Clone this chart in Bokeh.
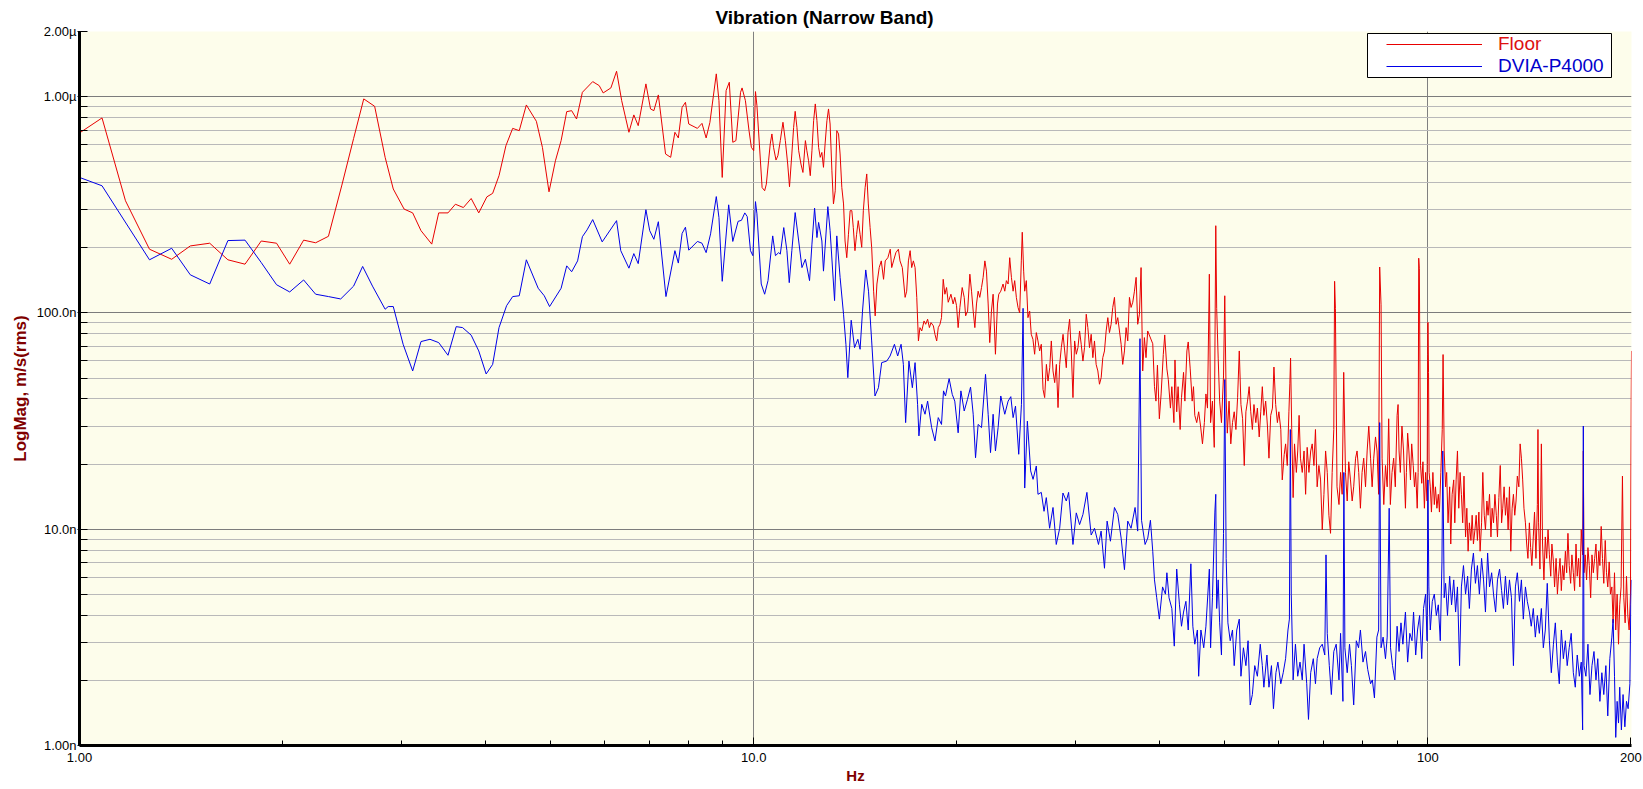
from bokeh.plotting import figure
from bokeh.models import Range1d, FixedTicker, Legend, LegendItem, BoxAnnotation
from bokeh.embed import file_html
from bokeh.resources import INLINE

FONT = "Liberation Sans"

# ---------------- Floor (red) : frequency in Hz, magnitude in nm/s rms ----------------
F1_HZ = [1.00, 1.08, 1.17, 1.27, 1.37, 1.46, 1.56, 1.66, 1.76, 1.86,
         1.96, 2.05, 2.15, 2.24, 2.34, 2.45, 2.55, 2.64, 2.74, 2.84,
         2.92, 3.03, 3.12, 3.21, 3.33, 3.41, 3.52, 3.61, 3.71, 3.81,
         3.91, 4.02, 4.10, 4.19, 4.29, 4.39, 4.49, 4.60, 4.76, 4.86,
         4.97, 5.08, 5.18, 5.28, 5.37, 5.46, 5.57, 5.77, 5.90, 5.98,
         6.14, 6.26, 6.37, 6.53, 6.64, 6.74, 6.92, 7.03, 7.11, 7.22,
         7.40, 7.53, 7.64, 7.73, 7.83, 7.92, 8.01, 8.25, 8.38, 8.50,
         8.61, 8.80, 8.88, 8.98, 9.10, 9.20, 9.31, 9.41, 9.56, 9.61,
         9.72, 9.84, 9.92, 10.00]
F1_NM = [679, 797, 330, 197, 177, 204, 210, 176, 168, 215,
         210, 168, 217, 211, 226, 390, 640, 976, 902, 524,
         374, 302, 290, 240, 208, 290, 290, 318, 307, 338,
         290, 344, 357, 431, 593, 713, 696, 915, 769, 582,
         363, 505, 626, 852, 861, 788, 1047, 1173, 1124, 1040,
         1097, 1310, 958, 684, 823, 734, 1145, 877, 861, 1018,
         543, 524, 684, 644, 892, 941, 747, 713, 752, 644,
         760, 1274, 958, 423, 1066, 1165, 615, 626, 1047, 1097,
         958, 697, 583, 562]

F2_HZ = [10.06, 10.11, 10.29, 10.38, 10.44, 10.52, 10.58, 10.64, 10.70, 10.79,
         10.86, 10.95, 11.05, 11.14, 11.23, 11.30, 11.39, 11.46, 11.52, 11.59,
         11.66, 11.75, 11.83, 11.93, 11.99, 12.06, 12.13, 12.20, 12.27, 12.34,
         12.41, 12.48, 12.55, 12.62, 12.69, 12.76, 12.84, 12.91, 12.98, 13.06,
         13.13, 13.21, 13.28, 13.36, 13.43, 13.51, 13.59, 13.66, 13.74, 13.82,
         13.90, 13.98, 14.05, 14.13, 14.21, 14.29, 14.38, 14.46, 14.54, 14.63,
         14.71, 14.79, 14.88, 14.96]
F2_NM = [1055, 908, 380, 367, 394, 505, 604, 672, 583, 509,
         533, 626, 761, 626, 488, 383, 543, 721, 855, 721,
         562, 488, 446, 626, 562, 505, 431, 562, 774, 925,
         774, 583, 524, 552, 471, 604, 774, 877, 747, 454,
         319, 367, 696, 672, 543, 380, 319, 215, 180, 231,
         297, 297, 248, 194, 231, 267, 231, 201, 297, 380,
         439, 319, 248, 201]

F3_HZ = [15.06, 15.14, 15.23, 15.35, 15.46, 15.58, 15.67, 15.81, 15.94, 16.02,
         16.12, 16.25, 16.39, 16.48, 16.61, 16.77, 16.86, 16.96, 17.06, 17.15,
         17.25, 17.35, 17.45, 17.55, 17.64, 17.75, 17.89, 17.99, 18.11, 18.22,
         18.32, 18.47, 18.57, 18.68, 18.78, 18.89, 18.99, 19.10, 19.21, 19.32,
         19.43, 19.61, 19.76, 19.87, 19.99, 20.10, 20.22, 20.38, 20.52, 20.62,
         20.76, 20.92, 21.04, 21.16, 21.28, 21.40, 21.52, 21.64, 21.77, 21.89,
         22.02, 22.14, 22.27, 22.39, 22.52, 22.65, 22.83, 22.99, 23.09, 23.25,
         23.43, 23.57, 23.70, 23.84, 23.97, 24.11, 24.25, 24.38, 24.52, 24.66,
         24.80, 24.94, 25.02, 25.14, 25.23, 25.37, 25.51, 25.66, 25.80, 25.95,
         26.10, 26.25, 26.40, 26.55, 26.70, 26.86, 27.01, 27.17, 27.32, 27.48,
         27.63, 27.79, 27.95, 28.11, 28.27, 28.43, 28.59, 28.76, 28.92, 29.08,
         29.25, 29.41, 29.58, 29.75, 29.92, 30.09, 30.26, 30.43, 30.60, 30.78,
         30.95, 31.13, 31.30, 31.48, 31.66, 31.84, 32.02, 32.20, 32.39, 32.57,
         32.76, 32.94, 33.13, 33.32, 33.51, 33.70, 33.89, 34.08, 34.28, 34.47,
         34.67, 34.87, 35.07, 35.26, 35.47, 35.67, 35.87, 36.08, 36.28, 36.49,
         36.70, 36.91, 37.11, 37.33, 37.54, 37.75, 37.97, 38.18, 38.40, 39.07]
F3_NM = [126, 96.9, 136, 162, 174, 143, 174, 180, 197, 162,
         174, 190, 197, 174, 162, 118, 126, 174, 194, 162,
         174, 162, 118, 74.2, 85.5, 82.5, 91.8, 88.6, 93.5, 85.5,
         90.2, 87.1, 79.6, 74.2, 85.5, 88.6, 95.1, 143, 122, 131,
         112, 122, 110, 118, 108, 85.5, 106, 131, 118, 96.9,
         102, 151, 126, 102, 85.5, 110, 126, 118, 131, 146,
         174, 156, 110, 72.9, 102, 122, 64.4, 110, 122, 126,
         136, 126, 141, 136, 180, 146, 126, 141, 118, 106,
         100, 174, 236, 156, 126, 141, 95.1, 102, 79.6, 75.5,
         64.4, 81.1, 74.2, 66.7, 71.6, 44.3, 40.6, 57.8, 48.4, 55.8,
         74.2, 53.9, 47.6, 57.8, 36.5, 57.8, 69.1, 79.6, 66.7, 55.8,
         81.1, 93.5, 66.7, 40.6, 74.2, 64.4, 69.1, 82.5, 71.6, 59.9,
         69.1, 98.6, 85.5, 69.1, 79.6, 62.1, 74.2, 57.8, 53.9, 46.8,
         50.2, 62.1, 66.7, 82.5, 95.1, 81.1, 88.6, 106, 118, 88.6,
         95.1, 82.5, 71.6, 57.8, 66.7, 85.5, 74.2, 118, 106, 112,
         126, 146, 88.6, 98.6, 162, 53.9, 76.9, 62.1, 82.5, 72.0]

F4_HZ = [39.3, 39.5, 39.7, 39.96, 40.2, 40.5, 40.7, 41.0, 41.2, 41.5,
         41.7, 42.0, 42.15, 42.4, 42.6, 42.9, 43.1, 43.4, 43.6, 43.9,
         44.1, 44.4, 44.7, 44.9, 45.1, 45.4, 45.7, 46.0, 46.3, 46.6,
         46.85, 47.1, 47.4, 47.6, 47.9, 48.2, 48.45, 48.6, 48.85, 49.1,
         49.4, 49.75, 49.96, 50.2, 50.4, 50.7, 51.0, 51.3, 51.6, 51.9,
         52.2, 52.5, 52.8, 53.1, 53.4, 53.7, 54.0, 54.3, 54.6, 54.9,
         55.2, 55.55, 55.85, 56.2, 56.5, 56.8, 57.1, 57.45, 57.8, 58.1,
         58.45, 58.8, 59.1, 59.45, 59.8, 60.1, 60.5, 60.8, 61.2, 61.5,
         61.85, 62.2, 62.4, 62.55, 62.8, 63.1, 63.4, 63.8, 64.1, 64.4,
         64.7, 65.1, 65.5, 65.85, 66.2, 66.6, 67.0, 67.35, 67.75, 68.1,
         68.5, 68.9, 69.3, 69.7, 70.1, 70.5, 70.9, 71.3, 71.7, 72.1,
         72.5, 72.7, 72.9, 73.3, 73.8, 74.2, 74.6, 75.0, 75.45, 75.9,
         76.3, 76.75, 77.2, 77.6, 78.1, 78.5, 78.95, 79.4, 79.85, 80.3,
         80.8, 81.25, 81.7, 82.2, 82.65, 83.1, 83.6, 84.05, 84.5, 84.8,
         85.2, 85.5, 86.0, 86.5, 87.0, 87.45, 87.95, 88.45, 88.95, 89.45]
F4_NM = [45.6, 39.1, 57.3, 32.4, 42.2, 64.2, 79.1, 55.1, 49.2, 36.3,
         45.6, 31.1, 60.6, 34.9, 45.6, 28.9, 40.6, 53.1, 39.1, 66.7,
         73.4, 55.1, 39.1, 45.6, 33.6, 31.1, 34.9, 30.0, 24.8, 31.1,
         42.2, 36.3, 151, 31.1, 39.1, 23.9, 253, 105, 61.8, 39.1,
         31.1, 51.1, 120, 40.6, 27.8, 39.1, 24.8, 31.1, 34.9, 28.9,
         40.6, 66.7, 37.7, 32.4, 19.7, 34.9, 39.1, 45.6, 34.9, 28.9,
         37.7, 31.1, 36.3, 26.7, 34.9, 45.6, 33.6, 39.1, 30.0, 21.3,
         33.6, 36.3, 56.2, 37.7, 31.1, 34.9, 28.9, 16.9, 22.1, 24.8,
         19.7, 34.9, 47.3, 61.8, 28.9, 14.0, 24.8, 18.3, 23.0, 33.6,
         21.3, 18.3, 23.0, 14.5, 23.9, 18.3, 23.0, 24.8, 19.7, 28.9,
         15.7, 19.7, 16.9, 9.94, 14.5, 23.0, 18.3, 11.6, 9.57, 18.3,
         28.9, 140, 105, 15.7, 13.0, 18.3, 14.5, 53.1, 18.3, 13.5,
         20.5, 16.9, 13.5, 15.7, 21.3, 23.0, 18.3, 12.5, 18.3, 21.3,
         15.7, 23.0, 30.0, 21.3, 15.7, 21.3, 26.7, 23.0, 14.5, 163,
         109, 21.3, 13.0, 19.7, 15.7, 32.4, 13.0, 18.3, 21.3, 15.7]

F5_HZ = [90.0, 90.3, 90.6, 91.0, 91.5, 92.0, 92.6, 92.9, 93.3, 93.7,
         94.2, 94.6, 95.1, 95.5, 95.9, 96.4, 96.7, 96.9, 97.1, 97.5,
         97.9, 98.3, 98.8, 99.2, 99.7, 99.9, 100.0, 100.2, 100.4, 100.8,
         101.2, 101.7, 102.2, 102.6, 103.1, 103.6, 104.0, 104.5, 105.0, 105.3,
         105.7, 106.2, 106.6, 107.1, 107.7, 108.1, 108.6, 109.2, 109.6, 110.1,
         110.6, 111.1, 111.6, 112.1, 112.6, 113.1, 113.7, 114.2, 114.7, 115.2,
         115.8, 116.3, 116.8, 117.4, 117.9, 118.4, 119.0, 119.5, 120.1, 120.6,
         121.2, 121.7, 122.3, 122.8, 123.4, 124.0, 124.5, 125.1, 125.7, 126.3,
         126.8, 127.4, 128.0, 128.6, 129.1, 129.7, 130.3, 130.9, 131.5, 132.1,
         132.7, 133.3, 133.9, 134.5, 135.1, 135.7, 136.4, 137.0, 137.6, 138.2,
         138.8, 139.5, 140.1, 140.7, 141.4, 142.0, 142.6, 143.3, 143.9, 144.6,
         145.3, 145.6, 145.9, 146.6, 147.3, 147.9, 148.6, 149.3, 150.0, 150.7,
         151.4, 152.1, 152.7, 153.5, 154.1, 154.9, 155.6, 156.2, 157.0, 157.7,
         158.4, 159.1, 159.9, 160.6, 161.3, 162.0, 162.8, 163.5, 164.3, 165.0,
         165.8, 166.5, 167.3, 168.0, 168.8, 169.6, 170.0, 170.4, 171.1, 171.9,
         172.7, 173.5, 174.3, 175.1, 175.9, 176.7, 177.5, 178.4, 179.2, 179.9,
         180.7, 181.5, 182.3, 183.2, 184.0, 184.8, 185.7, 186.5, 187.4, 188.2,
         189.1, 189.9, 190.8, 191.7, 192.5, 193.4, 194.3, 195.2, 196.1, 197.0,
         197.9, 198.8, 199.7, 200.2, 200.4]
F5_NM = [33.6, 37.7, 23.0, 18.3, 30.0, 23.0, 12.5, 18.3, 27.8, 23.0,
         16.9, 24.8, 19.7, 15.7, 18.3, 12.5, 18.3, 179, 160, 19.7,
         16.3, 20.5, 12.5, 18.3, 13.5, 64.2, 90.4, 53.1, 18.3, 15.7,
         12.0, 18.3, 13.0, 15.7, 12.5, 14.5, 12.0, 18.3, 28.9, 64.2,
         23.0, 15.7, 18.3, 10.7, 15.7, 8.54, 14.5, 16.9, 10.7, 16.9,
         23.0, 12.5, 18.3, 14.5, 10.7, 17.6, 9.21, 12.5, 7.91, 10.7,
         8.87, 11.6, 8.54, 9.94, 11.6, 8.87, 12.0, 7.91, 10.7, 18.3,
         11.6, 9.94, 13.5, 11.6, 14.5, 9.21, 12.5, 10.7, 14.5, 11.6,
         9.21, 14.0, 19.7, 10.7, 12.5, 15.7, 11.6, 14.0, 9.94, 15.7,
         7.91, 12.5, 14.5, 11.6, 13.5, 17.6, 15.7, 24.8, 21.3, 16.9,
         12.5, 10.7, 8.54, 7.33, 10.7, 8.22, 6.79, 9.21, 12.0, 7.33,
         13.0, 28.9, 10.7, 6.54, 24.8, 8.54, 5.83, 9.21, 7.33, 9.94,
         7.61, 6.06, 8.54, 7.06, 5.41, 7.33, 5.01, 6.06, 7.33, 5.20,
         6.79, 5.83, 7.91, 6.29, 9.57, 6.79, 5.62, 7.61, 6.29, 5.20,
         8.54, 6.06, 7.33, 5.41, 9.94, 7.61, 23.0, 6.29, 7.61, 5.83,
         8.22, 6.79, 4.82, 7.61, 6.29, 7.33, 8.54, 5.83, 7.91, 6.79,
         10.3, 7.33, 5.62, 8.87, 6.29, 5.41, 7.06, 5.01, 5.41, 3.69,
         6.29, 3.42, 5.01, 2.94, 4.47, 5.41, 17.6, 4.82, 3.69, 6.06,
         3.99, 3.42, 5.01, 39.1, 66.7]

# ---------------- DVIA-P4000 (blue) ----------------
D1_HZ = [1.00, 1.08, 1.27, 1.37, 1.46, 1.56, 1.66, 1.76, 1.86, 1.96,
         2.05, 2.15, 2.24, 2.34, 2.44, 2.55, 2.63, 2.72, 2.84, 2.87,
         2.92, 3.02, 3.12, 3.21, 3.31, 3.41, 3.52, 3.62, 3.70, 3.81,
         3.91, 4.01, 4.10, 4.19, 4.30, 4.39, 4.49, 4.60, 4.79, 4.89,
         4.98, 5.18, 5.28, 5.37, 5.48, 5.57, 5.66, 5.77, 5.96, 6.26,
         6.35, 6.53, 6.64, 6.74, 6.92, 7.01, 7.11, 7.22, 7.41, 7.64,
         7.73, 7.83, 7.92, 8.01, 8.25, 8.38, 8.50, 8.63, 8.80, 8.88,
         8.98, 9.18, 9.31, 9.48, 9.59, 9.70, 9.78, 9.89, 9.97]
D1_NM = [423, 387, 176, 199, 150, 136, 216, 217, 171, 135,
         125, 142, 122, 119, 116, 133, 164, 133, 104, 107,
         107, 71.6, 53.9, 73.7, 75.5, 72.9, 63.7, 86.4, 85.5, 78.9,
         66.7, 52.2, 57.8, 85.5, 108, 119, 120, 176, 130, 120,
         107, 130, 165, 155, 174, 225, 242, 270, 213, 267,
         194, 161, 188, 169, 300, 240, 219, 264, 119, 194,
         170, 233, 249, 195, 214, 210, 190, 232, 345, 276,
         140, 316, 214, 265, 268, 290, 279, 194, 184]

D2_HZ = [10.06, 10.11, 10.26, 10.38, 10.50, 10.67, 10.77, 10.89, 10.95, 11.08,
         11.20, 11.29, 11.39, 11.52, 11.66, 11.79, 11.93, 12.10, 12.20, 12.31,
         12.41, 12.48, 12.62, 12.69, 12.88, 12.98, 13.18, 13.28, 13.43, 13.59,
         13.70, 13.79, 13.95, 14.11, 14.27, 14.38, 14.50, 14.66, 14.80, 14.96,
         15.13, 15.31, 15.48, 15.75, 15.93, 16.17, 16.35, 16.54, 16.67, 16.80,
         16.99, 17.19, 17.35, 17.50, 17.58, 17.75, 17.95, 18.11, 18.36, 18.57,
         18.78, 18.99, 19.12, 19.25, 19.49, 19.70, 19.87, 20.10, 20.29, 20.52,
         20.75, 20.97, 21.16, 21.33, 21.52, 21.77, 22.07, 22.27, 22.45, 22.65,
         22.83, 23.04, 23.25, 23.57, 23.84, 24.06, 24.25, 24.45, 24.72, 24.95]
D2_NM = [327, 287, 136, 122, 141, 227, 184, 190, 187, 248,
         194, 138, 194, 291, 215, 162, 177, 141, 208, 305,
         223, 262, 215, 156, 310, 240, 114, 227, 146, 98.6,
         71.6, 50.2, 92.5, 69.1, 75.5, 67.9, 102, 158, 126, 74.2,
         41.3, 45.1, 58.9, 59.9, 63.2, 71.6, 63.2, 71.6, 57.8, 31.1,
         59.9, 45.1, 58.9, 37.8, 27.0, 37.8, 34.0, 39.1, 29.5, 25.6,
         32.8, 30.5, 43.6, 41.3, 49.7, 42.0, 39.1, 27.9, 43.6, 35.2,
         39.8, 45.4, 34.0, 21.4, 30.5, 29.5, 52.0, 34.0, 22.6, 34.0,
         23.0, 29.5, 41.3, 34.0, 39.1, 41.0, 32.8, 37.1, 22.2, 37.8]

D3_HZ = [25.09, 25.23, 25.46, 25.75, 25.96, 26.25, 26.40, 26.70, 26.95, 27.16,
         27.47, 27.79, 28.10, 28.43, 28.75, 29.08, 29.31, 29.75, 30.09, 30.43,
         30.78, 31.20, 31.66, 32.02, 32.46, 32.75, 33.13, 33.43, 33.81, 34.28,
         34.67, 35.07, 35.47, 35.87, 36.28, 36.78, 37.11, 37.40, 37.60, 38.06,
         38.41, 38.76, 39.07]
D3_NM = [105, 15.5, 31.6, 18.6, 17.0, 19.6, 14.5, 14.8, 12.1, 14.0,
         10.1, 12.6, 8.5, 10.1, 14.7, 13.5, 14.8, 8.5, 11.9, 10.5,
         11.7, 14.8, 9.4, 10.1, 8.5, 9.8, 6.6, 10.9, 8.8, 12.6,
         11.7, 9.1, 6.5, 10.9, 10.1, 12.6, 9.8, 76.0, 11.0, 8.5,
         9.1, 11.0, 7.9]

D4_HZ = [39.3, 39.6, 39.96, 40.4, 40.8, 41.0, 41.3, 41.7, 42.05, 42.4,
         42.8, 43.1, 43.4, 43.75, 44.1, 44.5, 44.8, 45.1, 45.5, 45.7,
         46.05, 46.5, 46.85, 47.4, 47.6, 47.9, 48.3, 48.45, 48.6, 48.85,
         49.1, 49.4, 49.75, 49.96, 50.2, 50.5, 50.9, 51.3, 51.6, 52.05,
         52.5, 52.8, 53.25, 53.7, 54.1, 54.5, 54.9, 55.35, 55.85, 56.4,
         56.8, 57.1, 57.7, 58.1, 58.6, 59.0, 59.5, 59.9, 60.5, 61.0,
         61.5, 62.0, 62.3, 62.5, 62.7, 63.1, 63.6, 64.1, 64.6, 65.1,
         65.5, 66.1, 66.5, 67.0, 67.6, 68.1, 68.5, 69.1, 69.7, 70.3,
         70.6, 70.9, 71.4, 71.9, 72.5, 73.1, 73.8, 74.2, 74.8, 75.04,
         75.3, 75.9, 76.5, 77.0, 77.6, 78.3, 78.9, 79.4, 80.1, 80.8,
         81.4, 82.2, 82.7, 83.3, 84.0, 84.5, 84.8, 85.2, 85.8, 86.5,
         87.0, 87.6, 88.0, 88.6, 89.3]
D4_NM = [5.83, 4.82, 3.84, 5.41, 5.01, 6.29, 4.82, 4.30, 2.88, 6.54,
         4.47, 3.56, 4.14, 4.64, 3.42, 6.92, 3.56, 2.94, 3.42, 2.09,
         3.42, 2.83, 3.56, 6.54, 2.83, 4.82, 12.0, 14.5, 4.30, 5.83,
         3.69, 2.62, 9.57, 49.2, 7.33, 3.69, 3.05, 3.42, 2.34, 3.42,
         3.84, 2.09, 2.83, 2.34, 3.05, 1.54, 1.72, 2.34, 2.09, 2.94,
         2.34, 1.86, 2.62, 1.86, 2.34, 1.48, 2.17, 2.43, 1.93, 2.17,
         2.52, 3.42, 3.84, 28.9, 5.01, 2.01, 2.94, 2.09, 2.43, 2.01,
         2.94, 1.93, 1.32, 2.17, 2.52, 1.93, 2.52, 2.83, 2.94, 2.62,
         7.61, 3.30, 2.34, 1.72, 2.72, 2.94, 2.01, 3.30, 1.60, 18.3,
         2.83, 2.17, 2.94, 2.34, 1.54, 3.05, 2.83, 3.42, 2.43, 2.72,
         2.25, 1.93, 2.01, 1.66, 3.17, 3.42, 31.1, 2.83, 3.17, 2.52,
         3.17, 12.5, 2.83, 2.34, 2.01]

D5_HZ = [90.0, 90.6, 91.2, 91.8, 92.6, 93.3, 94.0, 94.7, 95.2, 95.9,
         96.5, 97.2, 97.9, 98.5, 99.2, 99.7, 100.0, 100.3, 100.8, 101.5,
         102.2, 102.9, 103.6, 104.3, 104.9, 105.2, 105.7, 106.2, 106.9, 107.7,
         108.4, 109.2, 109.9, 110.6, 111.4, 112.1, 112.9, 113.7, 114.5, 115.2,
         116.0, 116.8, 117.6, 118.4, 119.2, 120.1, 120.9, 121.7, 122.6, 123.4,
         124.3, 125.1, 126.0, 126.8, 127.7, 128.6, 129.4, 130.3, 131.2, 132.1,
         133.0, 133.9, 134.8, 135.7, 136.7, 137.6, 138.5, 139.5, 140.4, 141.4,
         142.3, 143.3, 144.3, 145.3, 146.3, 147.3, 148.3, 149.3, 150.3, 151.4,
         152.4, 153.5, 154.5, 155.6, 156.6, 157.7, 158.8, 159.9, 160.9, 162.0,
         163.1, 164.3, 165.4, 166.5, 167.7, 168.8, 169.6, 170.0, 170.4, 171.5,
         172.7, 173.9, 175.1, 176.3, 177.5, 178.6, 179.9, 181.1, 182.3, 183.6,
         184.8, 186.1, 187.4, 188.2, 189.1, 189.9, 190.8, 191.7, 192.5, 193.6,
         194.7, 195.9, 197.0, 198.1, 199.3, 199.9, 200.4]
D5_NM = [3.56, 2.72, 3.69, 2.94, 4.14, 2.43, 3.30, 3.05, 4.14, 2.62,
         3.42, 3.99, 2.52, 4.30, 5.01, 3.05, 16.9, 5.41, 3.42, 4.64,
         5.01, 3.99, 4.47, 3.05, 7.06, 23.0, 4.82, 5.62, 3.99, 6.06,
         4.47, 5.83, 4.14, 5.41, 2.34, 5.41, 6.79, 5.01, 6.06, 4.30,
         6.54, 7.76, 5.62, 6.79, 5.01, 7.33, 5.83, 4.14, 7.76, 5.41,
         6.29, 5.01, 4.14, 5.83, 6.54, 5.20, 4.30, 6.06, 4.47, 5.83,
         4.82, 2.34, 5.41, 6.29, 4.64, 5.83, 3.84, 5.41, 4.64, 4.14,
         3.56, 4.30, 3.17, 3.99, 3.30, 4.30, 2.83, 3.42, 5.62, 3.05,
         2.17, 2.94, 3.69, 2.43, 1.93, 3.42, 2.52, 3.05, 2.34, 2.83,
         3.30, 2.17, 1.86, 2.62, 2.09, 2.43, 1.18, 30.0, 2.34, 2.09,
         2.94, 1.72, 2.34, 2.72, 2.01, 2.52, 1.60, 2.17, 1.72, 2.34,
         1.37, 2.52, 3.17, 3.84, 2.09, 1.09, 1.60, 1.27, 1.86, 1.18,
         1.72, 1.22, 1.60, 1.48, 1.93, 4.47, 5.83]

FLOOR_HZ = F1_HZ + F2_HZ + F3_HZ + F4_HZ + F5_HZ
FLOOR_NM = F1_NM + F2_NM + F3_NM + F4_NM + F5_NM
DVIA_HZ = D1_HZ + D2_HZ + D3_HZ + D4_HZ + D5_HZ
DVIA_NM = D1_NM + D2_NM + D3_NM + D4_NM + D5_NM

# ---------------- axes / ticks ----------------
X_RANGE = (1, 200.4)
Y_RANGE = (1, 2000)           # nm/s  (1.00n .. 2.00µ)
X_MAJOR = [1, 10, 100, 200]
X_MAJOR_LABELS = {1: "1.00", 10: "10.0", 100: "100", 200: "200"}
X_GRID = [10, 100]
X_MINOR = [2, 3, 4, 5, 6, 7, 8, 9, 20, 30, 40, 50, 60, 70, 80, 90]
Y_MAJOR = [1, 10, 100, 1000, 2000]
Y_MAJOR_LABELS = {1: "1.00n", 10: "10.0n", 100: "100.0n", 1000: "1.00µ", 2000: "2.00µ"}
Y_GRID_MAJOR = [1, 10, 100, 1000]
Y_MINOR = [2, 3, 4, 5, 6, 7, 8, 9,
           20, 30, 40, 50, 60, 70, 80, 90,
           200, 300, 400, 500, 600, 700, 800, 900]

RED = "#E80000"
BLUE = "#0000E8"
DARK_RED = "#800000"

p = figure(width=1643, height=789, x_axis_type="log", y_axis_type="log",
           x_range=Range1d(*X_RANGE), y_range=Range1d(*Y_RANGE),
           output_backend="svg", toolbar_location=None,
           min_border_left=79, min_border_right=12, min_border_top=31, min_border_bottom=44,
           background_fill_color="#FDFDEB", border_fill_color="white")
p.outline_line_color = None

p.title.text = "Vibration (Narrow Band)"
p.title.align = "left"
p.title.offset = 636
p.title.standoff = 7
p.title.text_font = FONT
p.title.text_font_size = "19px"
p.title.text_font_style = "bold"
p.title.text_color = "black"

xa = p.xaxis[0]
xa.ticker = FixedTicker(ticks=X_MAJOR, minor_ticks=X_MINOR)
xa.major_label_overrides = X_MAJOR_LABELS
xa.axis_line_width = 3
xa.axis_line_color = "black"
xa.major_tick_in = 8
xa.major_tick_out = 0
xa.minor_tick_in = 5
xa.minor_tick_out = 0
xa.major_tick_line_color = "black"
xa.minor_tick_line_color = "black"
xa.major_label_standoff = 7
xa.major_label_text_font = FONT
xa.major_label_text_font_size = "13px"
xa.major_label_text_color = "black"
xa.axis_label = "Hz"
xa.axis_label_standoff = 2
xa.axis_label_text_font = FONT
xa.axis_label_text_font_size = "15px"
xa.axis_label_text_font_style = "bold"
xa.axis_label_text_color = DARK_RED

ya = p.yaxis[0]
ya.ticker = FixedTicker(ticks=Y_MAJOR, minor_ticks=Y_MINOR)
ya.major_label_overrides = Y_MAJOR_LABELS
ya.axis_line_width = 3
ya.axis_line_color = "black"
ya.major_tick_in = 8
ya.major_tick_out = 2
ya.minor_tick_in = 8
ya.minor_tick_out = 0
ya.major_tick_line_color = "black"
ya.minor_tick_line_color = "black"
ya.major_label_standoff = 1
ya.major_label_text_font = FONT
ya.major_label_text_font_size = "13px"
ya.major_label_text_color = "black"
ya.axis_label = "LogMag, m/s(rms)"
ya.axis_label_standoff = 4
ya.axis_label_text_font = FONT
ya.axis_label_text_font_size = "17px"
ya.axis_label_text_font_style = "bold"
ya.axis_label_text_color = DARK_RED

p.xgrid.ticker = FixedTicker(ticks=X_GRID)
p.xgrid.grid_line_color = "#808080"
p.xgrid.grid_line_width = 1
p.ygrid.ticker = FixedTicker(ticks=Y_GRID_MAJOR, minor_ticks=Y_MINOR)
p.ygrid.grid_line_color = "#7c7c7c"
p.ygrid.grid_line_width = 1
p.ygrid.minor_grid_line_color = "#b9b9b9"
p.ygrid.minor_grid_line_width = 1

r_floor = p.line(FLOOR_HZ, FLOOR_NM, line_color=RED, line_width=1)
r_dvia = p.line(DVIA_HZ, DVIA_NM, line_color=BLUE, line_width=1)

# legend frame (screen units relative to the plot frame)
p.add_layout(BoxAnnotation(left=1288, right=1532, top=712, bottom=668,
                           left_units="screen", right_units="screen",
                           top_units="screen", bottom_units="screen",
                           fill_color="white", fill_alpha=1.0,
                           line_color="black", line_alpha=1.0, line_width=1))

def make_legend(label, renderer, color, loc):
    return Legend(items=[LegendItem(label=label, renderers=[renderer])],
                  location=loc, padding=0, margin=0, spacing=0,
                  border_line_color=None, background_fill_alpha=0,
                  glyph_width=96, glyph_height=22, label_height=22,
                  label_standoff=16, label_text_font=FONT,
                  label_text_font_size="19px", label_text_color=color,
                  label_text_baseline="middle")

p.add_layout(make_legend("Floor", r_floor, "#DD1111", (1307, 690)))
p.add_layout(make_legend("DVIA-P4000", r_dvia, "#0000CC", (1307, 668)))

open("out.html", "w").write(file_html(p, INLINE))
